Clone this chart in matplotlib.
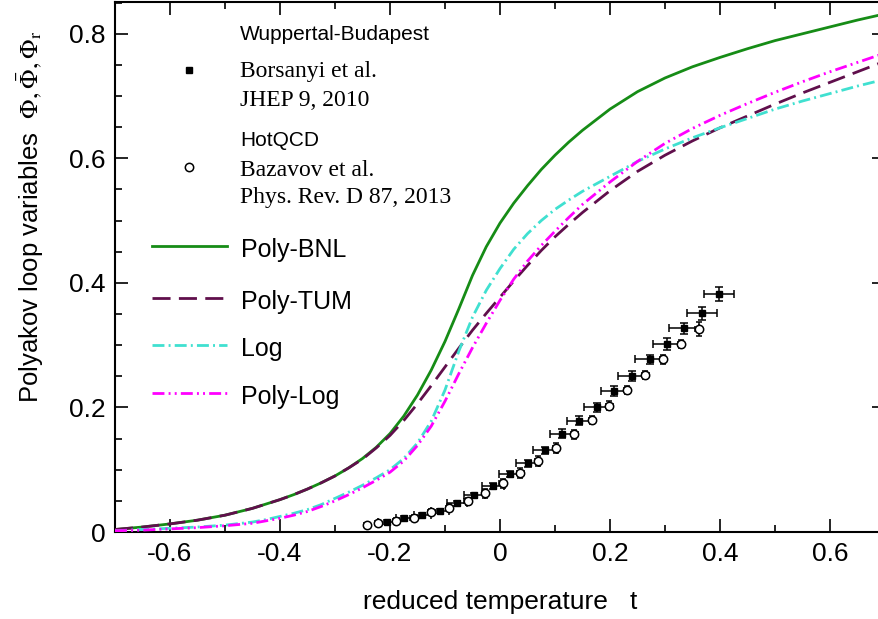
import matplotlib
matplotlib.use("Agg")
import matplotlib.pyplot as plt
from matplotlib.lines import Line2D
from matplotlib.ticker import MultipleLocator

plt.rcParams['font.family'] = ['Liberation Sans', 'DejaVu Sans']
plt.rcParams['mathtext.fontset'] = 'stix'

# ---- model curves (reduced temperature t) ----
t_curve = [-0.7, -0.65, -0.6, -0.55, -0.5, -0.45, -0.425, -0.4, -0.375, -0.35, -0.325, -0.3,
           -0.275, -0.25, -0.225, -0.2, -0.175, -0.15, -0.125, -0.1, -0.075, -0.05, -0.025, 0.0,
           0.025, 0.05, 0.075, 0.1, 0.125, 0.15, 0.2, 0.25, 0.3, 0.35, 0.4, 0.45, 0.5, 0.55,
           0.6, 0.65, 0.7]
poly_bnl = [0.004, 0.008, 0.013, 0.019, 0.027, 0.038, 0.045, 0.052, 0.060, 0.069, 0.079, 0.090,
            0.103, 0.118, 0.136, 0.158, 0.186, 0.220, 0.260, 0.306, 0.358, 0.412, 0.458, 0.496,
            0.528, 0.556, 0.582, 0.605, 0.626, 0.645, 0.679, 0.707, 0.729, 0.747, 0.762, 0.776,
            0.789, 0.800, 0.811, 0.822, 0.832]
poly_tum = [0.004, 0.008, 0.013, 0.019, 0.027, 0.038, 0.045, 0.052, 0.060, 0.069, 0.079, 0.090,
            0.103, 0.117, 0.135, 0.155, 0.179, 0.206, 0.235, 0.265, 0.295, 0.324, 0.351, 0.377,
            0.403, 0.428, 0.452, 0.474, 0.494, 0.513, 0.548, 0.579, 0.605, 0.628, 0.649, 0.668,
            0.687, 0.705, 0.722, 0.739, 0.756]
log_pot = [0.002, 0.004, 0.006, 0.008, 0.011, 0.016, 0.020, 0.025, 0.030, 0.036, 0.044, 0.054,
           0.064, 0.075, 0.087, 0.100, 0.118, 0.143, 0.178, 0.228, 0.290, 0.345, 0.388, 0.423,
           0.454, 0.479, 0.500, 0.518, 0.533, 0.547, 0.571, 0.595, 0.615, 0.633, 0.649, 0.664,
           0.679, 0.692, 0.704, 0.716, 0.727]
poly_log = [0.002, 0.003, 0.005, 0.007, 0.010, 0.014, 0.018, 0.022, 0.027, 0.033, 0.041, 0.050,
            0.060, 0.071, 0.083, 0.096, 0.114, 0.139, 0.170, 0.210, 0.254, 0.296, 0.335, 0.372,
            0.406, 0.435, 0.460, 0.483, 0.505, 0.526, 0.562, 0.595, 0.624, 0.648, 0.669, 0.688,
            0.706, 0.723, 0.739, 0.754, 0.769]

# ---- lattice data: Wuppertal-Budapest (Borsanyi et al.) ----
t_wb = [-0.206, -0.174, -0.141, -0.109, -0.078, -0.047, -0.013, 0.019, 0.050, 0.082,
        0.113, 0.144, 0.176, 0.208, 0.240, 0.272, 0.304, 0.335, 0.367, 0.398]
phi_wb = [0.016, 0.022, 0.028, 0.034, 0.046, 0.059, 0.074, 0.093, 0.110, 0.131,
          0.158, 0.179, 0.200, 0.227, 0.251, 0.277, 0.302, 0.327, 0.351, 0.382]
xerr_wb = [0.015, 0.016, 0.016, 0.017, 0.018, 0.019, 0.020, 0.020, 0.021, 0.022,
           0.023, 0.023, 0.024, 0.025, 0.025, 0.026, 0.026, 0.027, 0.027, 0.028]
yerr_wb = [0.003, 0.003, 0.003, 0.003, 0.004, 0.004, 0.005, 0.005, 0.006, 0.006,
           0.007, 0.007, 0.007, 0.008, 0.008, 0.008, 0.009, 0.009, 0.010, 0.011]

# ---- lattice data: HotQCD (Bazavov et al.) ----
t_hq = [-0.242, -0.222, -0.189, -0.157, -0.125, -0.093, -0.059, -0.027, 0.005, 0.037,
        0.069, 0.102, 0.135, 0.167, 0.199, 0.231, 0.264, 0.296, 0.329, 0.361]
phi_hq = [0.012, 0.014, 0.018, 0.023, 0.032, 0.039, 0.049, 0.062, 0.078, 0.095,
          0.114, 0.135, 0.157, 0.180, 0.203, 0.228, 0.252, 0.277, 0.302, 0.326]
xerr_hq = [0.006] * 20
yerr_hq = [0.003, 0.004, 0.004, 0.005, 0.005, 0.006, 0.006, 0.007, 0.007, 0.008,
           0.008, 0.008, 0.007, 0.007, 0.007, 0.006, 0.006, 0.007, 0.007, 0.011]

labels = ["Poly-BNL", "Poly-TUM", "Log", "Poly-Log"]
colors = ['#168c16', '#600f4c', '#40e0d0', '#ff00ff']
styles = ['-', (0, (6.5, 3.0)), (0, (4.3, 1.5, 0.7, 1.5)), (0, (4.3, 1.5, 0.7, 1.5, 0.7, 1.5))]

W, H = 879, 619
fig = plt.figure(figsize=(W / 100, H / 100), dpi=100)
ax = fig.add_axes([115 / W, 1 - 532 / H, 770 / W, 530 / H])

lw = 2.0
for yv, c, st in zip([poly_bnl, poly_tum, log_pot, poly_log], colors, styles):
    ax.plot(t_curve, yv, color=c, lw=lw, ls=st, zorder=3)

ax.errorbar(t_wb, phi_wb, xerr=xerr_wb, yerr=yerr_wb, fmt='s', color='black', ms=5,
            capsize=3, elinewidth=1.1, capthick=1.1, zorder=5)
ax.errorbar(t_hq, phi_hq, xerr=xerr_hq, yerr=yerr_hq, fmt='o', color='black', mfc='white',
            mec='black', ms=6, mew=1.1, capsize=2.5, elinewidth=1.1, capthick=1.1, zorder=5)

ax.set_xlim(-0.7, 0.7)
ax.set_ylim(0, 0.851)
ax.xaxis.set_minor_locator(MultipleLocator(0.1))
ax.yaxis.set_minor_locator(MultipleLocator(0.05))
ax.set_xticks([-0.6, -0.4, -0.2, 0, 0.2, 0.4, 0.6])
ax.set_xticklabels(['-0.6', '-0.4', '-0.2', '0', '0.2', '0.4', '0.6'])
ax.set_yticks([0, 0.2, 0.4, 0.6, 0.8])
ax.set_yticklabels(['0', '0.2', '0.4', '0.6', '0.8'])
ax.tick_params(which='both', direction='in', top=True, right=True, width=1.2)
ax.tick_params(which='major', length=9.5, labelsize=19, pad=7)
ax.tick_params(which='minor', length=5)
for s in ax.spines.values():
    s.set_linewidth(1.5)

ax.set_xlabel("reduced temperature   t", fontsize=19)
ax.xaxis.set_label_coords(0.5, -0.11)
ax.set_ylabel(r"Polyakov loop variables  $\Phi, \bar{\Phi}, \Phi_{\mathrm{r}}$", fontsize=18.5)
ax.yaxis.set_label_coords(-0.09, 0.595)

# ---- key for model curves ----
leg_rows = [245.7, 298.3, 345.0, 392.7]
for yy, lab, c, st in zip(leg_rows, labels, colors, styles):
    fig.add_artist(Line2D([152 / W, 227 / W], [1 - yy / H, 1 - yy / H], color=c, lw=lw, ls=st))
    fig.text(241 / W, 1 - (yy + 11) / H, lab, fontsize=18, ha='left', va='baseline')

# ---- key for lattice data ----
fig.add_artist(Line2D([189 / W], [1 - 70 / H], marker='s', color='black', ms=5, ls='none'))
fig.add_artist(Line2D([189 / W], [1 - 167 / H], marker='o', mfc='white', mec='black', ms=6,
                      mew=1.1, ls='none'))
fig.text(240 / W, 1 - 39.5 / H, "Wuppertal-Budapest", fontsize=15, ha='left', va='baseline')
fig.text(240 / W, 1 - 77.5 / H, "Borsanyi et al.", fontsize=17, ha='left', va='baseline',
         family='Liberation Serif')
fig.text(240 / W, 1 - 105.5 / H, "JHEP 9, 2010", fontsize=17, ha='left', va='baseline',
         family='Liberation Serif')
fig.text(240 / W, 1 - 145.5 / H, "HotQCD", fontsize=15, ha='left', va='baseline')
fig.text(240 / W, 1 - 176 / H, "Bazavov et al.", fontsize=17, ha='left', va='baseline',
         family='Liberation Serif')
fig.text(240 / W, 1 - 203 / H, "Phys. Rev. D 87, 2013", fontsize=17, ha='left', va='baseline',
         family='Liberation Serif')

fig.savefig("out.png", dpi=100)
